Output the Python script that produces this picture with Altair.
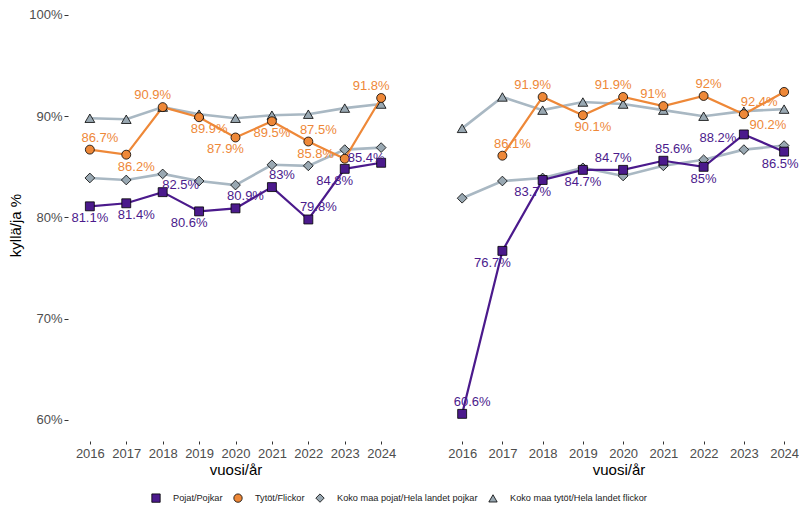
import altair as alt
import pandas as pd

years = [2016, 2017, 2018, 2019, 2020, 2021, 2022, 2023, 2024]
series_names = [
    "Pojat/Pojkar",
    "Tytöt/Flickor",
    "Koko maa pojat/Hela landet pojkar",
    "Koko maa tytöt/Hela landet flickor",
]

# Left panel
a_pojat = [81.1, 81.4, 82.5, 80.6, 80.9, 83.0, 79.8, 84.8, 85.4]
a_tytot = [86.7, 86.2, 90.9, 89.9, 87.9, 89.5, 87.5, 85.8, 91.8]
a_koko_pojat = [83.9, 83.7, 84.3, 83.6, 83.2, 85.2, 85.1, 86.7, 86.9]
a_koko_tytot = [89.8, 89.7, 90.9, 90.2, 89.8, 90.1, 90.2, 90.8, 91.2]
# Right panel
b_pojat = [60.6, 76.7, 83.7, 84.7, 84.7, 85.6, 85.0, 88.2, 86.5]
b_tytot = [None, 86.1, 91.9, 90.1, 91.9, 91.0, 92.0, 90.2, 92.4]
b_koko_pojat = [81.9, 83.6, 83.9, 84.9, 84.1, 85.1, 85.7, 86.7, 87.1]
b_koko_tytot = [88.8, 91.9, 90.6, 91.4, 91.2, 90.6, 90.0, 90.5, 90.7]

# label placement codes (which side of the point the value label sits)
a_pojat_pos = ["b", "br", "r", "bl", "tr", "tr", "tr", "bl", "ul"]
a_tytot_pos = ["tr", "br", "tl", "br", "bl", "b", "tr", "l", "tl"]
b_pojat_pos = ["tr", "bl", "bl", "b", "tl", "tr", "b", "lw", "bw"]
b_tytot_pos = [None, "tr", "tl", "br", "tl", "tl", "t", "rb", "lb"]

offsets = {
    "t": (5, -12), "b": (0, 12), "bw": (-4, 12), "tr": (10, -12), "tl": (-10, -12),
    "br": (10, 12), "bl": (-10, 12), "l": (-29, -5), "ul": (-15, -5),
    "r": (18, -7), "lw": (-26, 4), "rb": (24, 11), "lb": (-25, 10),
}

line_colors = ["#4B1A8C", "#EE8838", "#A9B8C3", "#A9B8C3"]
fill_colors = ["#4B1A8C", "#EE8838", "#99A8B2", "#99A8B2"]
label_colors = ["#7340AE", "#F39B5C"]
shapes = ["square", "circle", "diamond", "triangle-up"]

FONT = "Liberation Sans"


def build(values_list, pos_list):
    rows, lrows = [], []
    for name, vals in zip(series_names, values_list):
        for yr, v in zip(years, vals):
            if v is not None:
                rows.append({"year": yr, "value": v, "series": name})
    for name, vals, poss in zip(series_names[:2], values_list[:2], pos_list):
        for yr, v, p in zip(years, vals, poss):
            if v is not None:
                lrows.append({"year": yr, "value": v, "series": name, "pos": p,
                              "label": f"{v:g}%"})
    return pd.DataFrame(rows), pd.DataFrame(lrows)


df_a, lab_a = build([a_pojat, a_tytot, a_koko_pojat, a_koko_tytot], [a_pojat_pos, a_tytot_pos])
df_b, lab_b = build([b_pojat, b_tytot, b_koko_pojat, b_koko_tytot], [b_pojat_pos, b_tytot_pos])

line_scale = alt.Scale(domain=series_names, range=line_colors)
fill_scale = alt.Scale(domain=series_names, range=fill_colors)
shape_scale = alt.Scale(domain=series_names, range=shapes)
stroke_scale = alt.Scale(domain=series_names, range=["black"] * 4)
label_scale = alt.Scale(domain=series_names[:2], range=label_colors)

legend = alt.Legend(
    title=None, orient="none", direction="horizontal", legendX=83, legendY=484,
    labelFont=FONT, labelFontSize=9.2, labelColor="#222222", symbolSize=70,
    symbolStrokeWidth=0.8, columnPadding=9,
    labelOffset=12, labelLimit=300, symbolOffset=0,
)

Y_DOMAIN = [57.92, 100.59]
HEIGHT = 432


def panel(df, lab, width, xdomain, show_y):
    x = alt.X(
        "year:Q",
        scale=alt.Scale(domain=xdomain, nice=False, zero=False),
        axis=alt.Axis(values=years, format="d", title="vuosi/år", grid=False, domain=False,
                      tickSize=3, tickColor="#333333", labelColor="#4d4d4d",
                      labelFontSize=13, labelFont=FONT, labelPadding=3,
                      titleFont=FONT, titleFontSize=15, titleFontWeight="normal",
                      titleColor="black", titlePadding=2, labelFlush=False),
    )
    if show_y:
        yaxis = alt.Axis(values=[60, 70, 80, 90, 100], labelExpr="datum.value + '%'",
                         title="kyllä/ja %", grid=False, domain=False, tickSize=4,
                         tickColor="#333333", labelColor="#4d4d4d", labelFontSize=13,
                         labelFont=FONT, labelPadding=2, titleFont=FONT, titleFontSize=15,
                         titleFontWeight="normal", titleColor="black", titlePadding=5)
    else:
        yaxis = None
    y = alt.Y("value:Q", scale=alt.Scale(domain=Y_DOMAIN, nice=False, zero=False), axis=yaxis)

    base = alt.Chart(df)
    national = alt.FieldOneOfPredicate(field="series", oneOf=series_names[2:])
    local = alt.FieldOneOfPredicate(field="series", oneOf=series_names[:2])

    lines_nat = base.transform_filter(national).mark_line(strokeWidth=2.6).encode(
        x=x, y=y, color=alt.Color("series:N", scale=line_scale, legend=None))
    lines_loc = base.transform_filter(local).mark_line(strokeWidth=2.2).encode(
        x=x, y=y, color=alt.Color("series:N", scale=line_scale, legend=None))

    def pts(pred, size):
        return base.transform_filter(pred).mark_point(
            filled=True, strokeWidth=0.8, size=size, opacity=1).encode(
            x=x, y=y,
            fill=alt.Fill("series:N", scale=fill_scale, legend=legend),
            stroke=alt.Stroke("series:N", scale=stroke_scale, legend=legend),
            shape=alt.Shape("series:N", scale=shape_scale, legend=legend))

    layers = [lines_nat, lines_loc, pts(national, 95), pts(local, 80)]
    for code, (dx, dy) in offsets.items():
        if (lab["pos"] == code).any():
            t = alt.Chart(lab).transform_filter(alt.datum.pos == code).mark_text(
                dx=dx, dy=dy, font=FONT, fontSize=13, align="center", baseline="middle").encode(
                x=x, y=y, text="label:N",
                color=alt.Color("series:N", scale=label_scale, legend=None))
            layers.append(t)
    return alt.layer(*layers).properties(width=width, height=HEIGHT)


left = panel(df_a, lab_a, 335, [2015.4, 2024.6], True)
right = panel(df_b, lab_b, 361, [2015.4, 2024.37], False)

chart = alt.hconcat(left, right, spacing=35).resolve_scale(
    x="independent", y="independent"
).properties(padding=0, background="white").configure_view(strokeWidth=0, stroke="transparent")

chart.save("out.html", embed_options={"renderer": "svg", "actions": False})
